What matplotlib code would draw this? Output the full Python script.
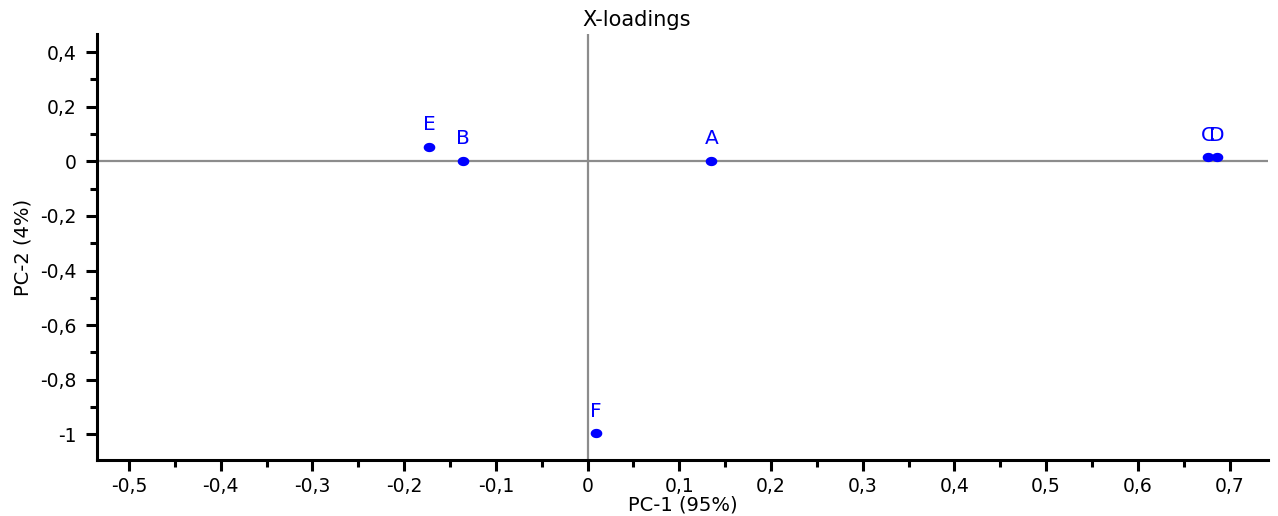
import matplotlib.pyplot as plt
import numpy as np
from matplotlib.path import Path as MPath
from matplotlib.ticker import FuncFormatter, MultipleLocator

# PCA loadings (PC-1 / PC-2) per variable
names = ["A", "B", "C", "D", "E", "F"]
pc1 = [0.135, -0.136, 0.676, 0.686, -0.173, 0.009]
pc2 = [0.002, 0.002, 0.015, 0.015, 0.053, -0.996]

BLUE = "#0000ff"
GREY = "#8c8c8c"


def comma_fmt(v, _pos):
    if abs(v) < 1e-9:
        return "0"
    s = f"{v:.1f}".rstrip("0").rstrip(".")
    return s.replace(".", ",")


def ellipse_marker(ratio=1.25, n=60):
    t = np.linspace(0, 2 * np.pi, n)
    verts = np.column_stack([ratio * np.cos(t), np.sin(t)])
    return MPath(verts, closed=True)


plt.rcParams.update({
    "font.family": ["DejaVu Sans"],
    "font.size": 14,
})

fig = plt.figure(figsize=(12.78, 5.16), dpi=100)
ax = fig.add_axes([0.0759, 0.108, 0.9163, 0.826])

ax.axhline(0, color=GREY, lw=1.6, zorder=1)
ax.axvline(0, color=GREY, lw=1.6, zorder=1)

ax.scatter(pc1, pc2, marker=ellipse_marker(), s=70, color=BLUE, zorder=3, linewidths=0)
for name, x, y in zip(names, pc1, pc2):
    ax.annotate(name, (x, y), xytext=(0, 9), textcoords="offset points",
                ha="center", va="bottom", color=BLUE, fontsize=14.5)

ax.set_xlim(-0.535, 0.742)
ax.set_ylim(-1.095, 0.466)

ax.xaxis.set_major_locator(MultipleLocator(0.1))
ax.xaxis.set_minor_locator(MultipleLocator(0.05))
ax.yaxis.set_major_locator(MultipleLocator(0.2))
ax.yaxis.set_minor_locator(MultipleLocator(0.1))
ax.xaxis.set_major_formatter(FuncFormatter(comma_fmt))
ax.yaxis.set_major_formatter(FuncFormatter(comma_fmt))

for side in ("top", "right"):
    ax.spines[side].set_visible(False)
for side in ("left", "bottom"):
    ax.spines[side].set_linewidth(2.2)

ax.tick_params(which="major", length=8, width=2.2, labelsize=13.5)
ax.tick_params(which="minor", length=5, width=2.2)
ax.tick_params(axis="y", which="major", pad=7)
ax.tick_params(axis="x", which="major", pad=4)

ax.set_xlabel("PC-1 (95%)", fontsize=14, labelpad=0)
ax.set_ylabel("PC-2 (4%)", fontsize=14, labelpad=5)
fig.text(0.498, 0.961, "X-loadings", ha="center", va="center", fontsize=15)

fig.savefig("out.png", dpi=100)
